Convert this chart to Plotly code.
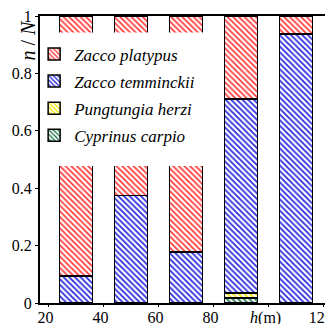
import plotly.graph_objects as go

h_values = [30, 50, 70, 90, 110]
species = ["Cyprinus carpio", "Pungtungia herzi", "Zacco temminckii", "Zacco platypus"]
cyprinus_carpio = [0.0, 0.0, 0.0, 0.018, 0.0]
pungtungia_herzi = [0.0, 0.0, 0.0, 0.017, 0.0]
zacco_temminckii = [0.094, 0.374, 0.178, 0.675, 0.937]
zacco_platypus = [0.906, 0.626, 0.822, 0.290, 0.063]
x_tick_vals = [20, 40, 60, 80, 100, 120]
x_tick_text = ["20", "40", "60", "80", "<i>h</i>(m)", "120"]
y_tick_vals = [0, 0.2, 0.4, 0.6, 0.8, 1]
y_tick_text = ["0", "0.2", "0.4", "0.6", "0.8", "1"]

series = [cyprinus_carpio, pungtungia_herzi, zacco_temminckii, zacco_platypus]
colors = ["#1f7a4a", "#f2e600", "#2b2bdd", "#ff3b3b"]
ranks = [4, 3, 2, 1]

FONT = "Liberation Serif, Times New Roman, serif"
fig = go.Figure()
for name, vals, col, rk in zip(species, series, colors, ranks):
    fig.add_trace(go.Bar(
        x=h_values, y=vals, name=f"<i>{name}</i>", legendgroup=name, legendrank=rk,
        width=12,
        marker=dict(color="white", line=dict(color="black", width=1.5),
                    pattern=dict(shape="\\", fgcolor=col, bgcolor="white",
                                 size=4, solidity=0.45, fillmode="replace")),
    ))

fig.update_layout(
    barmode="stack",
    width=333, height=324,
    margin=dict(l=32, r=8, t=7.5, b=28.5, pad=0, autoexpand=False),
    paper_bgcolor="white", plot_bgcolor="white",
    font=dict(family=FONT, size=16, color="black"),
    showlegend=True,
    legend=dict(x=-0.02, y=0.929, xanchor="left", yanchor="top",
                bgcolor="rgba(0,0,0,0)", borderwidth=0,
                traceorder="grouped", tracegroupgap=2,
                font=dict(family=FONT, size=17)),
    shapes=[dict(type="rect", xref="x", yref="y", x0=23.1, x1=78.7, y0=0.4774, y1=0.9427,
                 fillcolor="white", line=dict(width=0), layer="above")],
    annotations=[dict(text="<i>n</i> / <i>N</i>", xref="paper", yref="paper",
                      x=-0.041, y=0.918, textangle=-90, showarrow=False,
                      xanchor="center", yanchor="middle",
                      font=dict(family=FONT, size=20))],
)
fig.update_xaxes(range=[16.9, 123.4], tickvals=x_tick_vals, ticktext=x_tick_text,
                 showline=True, linecolor="black", linewidth=2, mirror=True,
                 ticks="outside", ticklen=2, tickcolor="black", showgrid=False,
                 ticklabelstandoff=-3, ticklabelshift=-3, ticklabeloverflow="allow",
                 zeroline=False, automargin=False, tickfont=dict(family=FONT, size=16))
fig.update_yaxes(range=[0, 1], tickvals=y_tick_vals, ticktext=y_tick_text,
                 showline=True, linecolor="black", linewidth=2, ticklabeloverflow="allow",
                 ticks="outside", ticklen=3, tickcolor="black", showgrid=False,
                 zeroline=False, automargin=False, tickfont=dict(family=FONT, size=16))

fig.write_html("out.html")
